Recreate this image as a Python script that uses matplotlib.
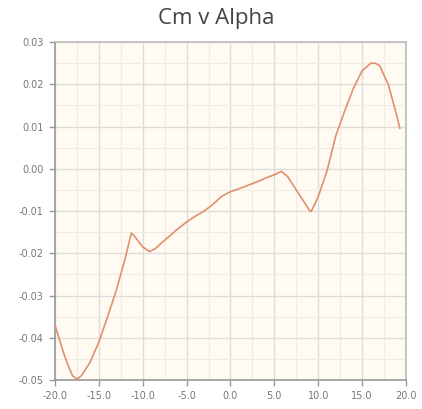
import matplotlib
matplotlib.use("Agg")
import matplotlib.pyplot as plt
from matplotlib.ticker import MultipleLocator, FormatStrFormatter

alpha = [-20, -19, -18.5, -18, -17.5, -17, -16, -15, -14, -13, -12, -11.3, -11, -10,
         -9.2, -8.5, -8, -7, -6, -5, -4, -3, -2, -1, 0, 1, 2, 3, 4, 5, 5.8, 6.5, 7,
         8, 9, 9.2, 10, 11, 12, 13, 14, 15, 16, 16.5, 17, 18, 19, 19.3]
cm = [-0.0370, -0.0437, -0.0466, -0.0490, -0.0498, -0.0490, -0.0458, -0.0410,
      -0.0350, -0.0287, -0.0212, -0.0152, -0.0158, -0.0185, -0.0196, -0.0188,
      -0.0178, -0.0160, -0.0142, -0.0126, -0.0112, -0.0100, -0.0084, -0.0065,
      -0.0054, -0.0047, -0.0039, -0.0031, -0.0022, -0.0014, -0.0006, -0.0018,
      -0.0034, -0.0066, -0.0098, -0.0101, -0.0066, -0.0005, 0.0078, 0.0136,
      0.0190, 0.0232, 0.0250, 0.0250, 0.0244, 0.0199, 0.0122, 0.0096]

x_ticks = [-20, -15, -10, -5, 0, 5, 10, 15, 20]
y_ticks = [-0.05, -0.04, -0.03, -0.02, -0.01, 0.0, 0.01, 0.02, 0.03]

fig = plt.figure(figsize=(4.22, 4.09), dpi=100)
fig.patch.set_facecolor('white')
ax = fig.add_axes([0.1303, 0.0709, 0.8317, 0.8261])
ax.set_facecolor('#fffbf3')

ax.plot(alpha, cm, color='#e0906c', linewidth=1.2, zorder=3)

ax.set_xlim(-20, 20)
ax.set_ylim(-0.05, 0.03)
ax.set_xticks(x_ticks)
ax.set_yticks(y_ticks)
ax.xaxis.set_minor_locator(MultipleLocator(2.5))
ax.yaxis.set_minor_locator(MultipleLocator(0.005))
ax.xaxis.set_major_formatter(FormatStrFormatter('%.1f'))
ax.yaxis.set_major_formatter(FormatStrFormatter('%.2f'))

ax.grid(True, which='major', color='#dcdcdc', linewidth=1.0, zorder=0)
ax.grid(True, which='minor', color='#f1ece2', linewidth=0.8, zorder=0)
ax.set_axisbelow(True)

for s in ['top', 'right']:
    ax.spines[s].set_color('#bbbbbb')
    ax.spines[s].set_linewidth(1.2)
for s in ['left', 'bottom']:
    ax.spines[s].set_color('#999999')
    ax.spines[s].set_linewidth(1.2)

ax.tick_params(which='major', direction='out', length=4, width=1, color='#999999',
               labelsize=7, labelcolor='#777777', pad=4)
ax.tick_params(which='minor', length=0)

fig.text(0.513, 0.955, 'Cm v Alpha', ha='center', va='center', fontsize=16,
         color='#444444', family='Open Sans')

fig.savefig('out.png', dpi=100)
